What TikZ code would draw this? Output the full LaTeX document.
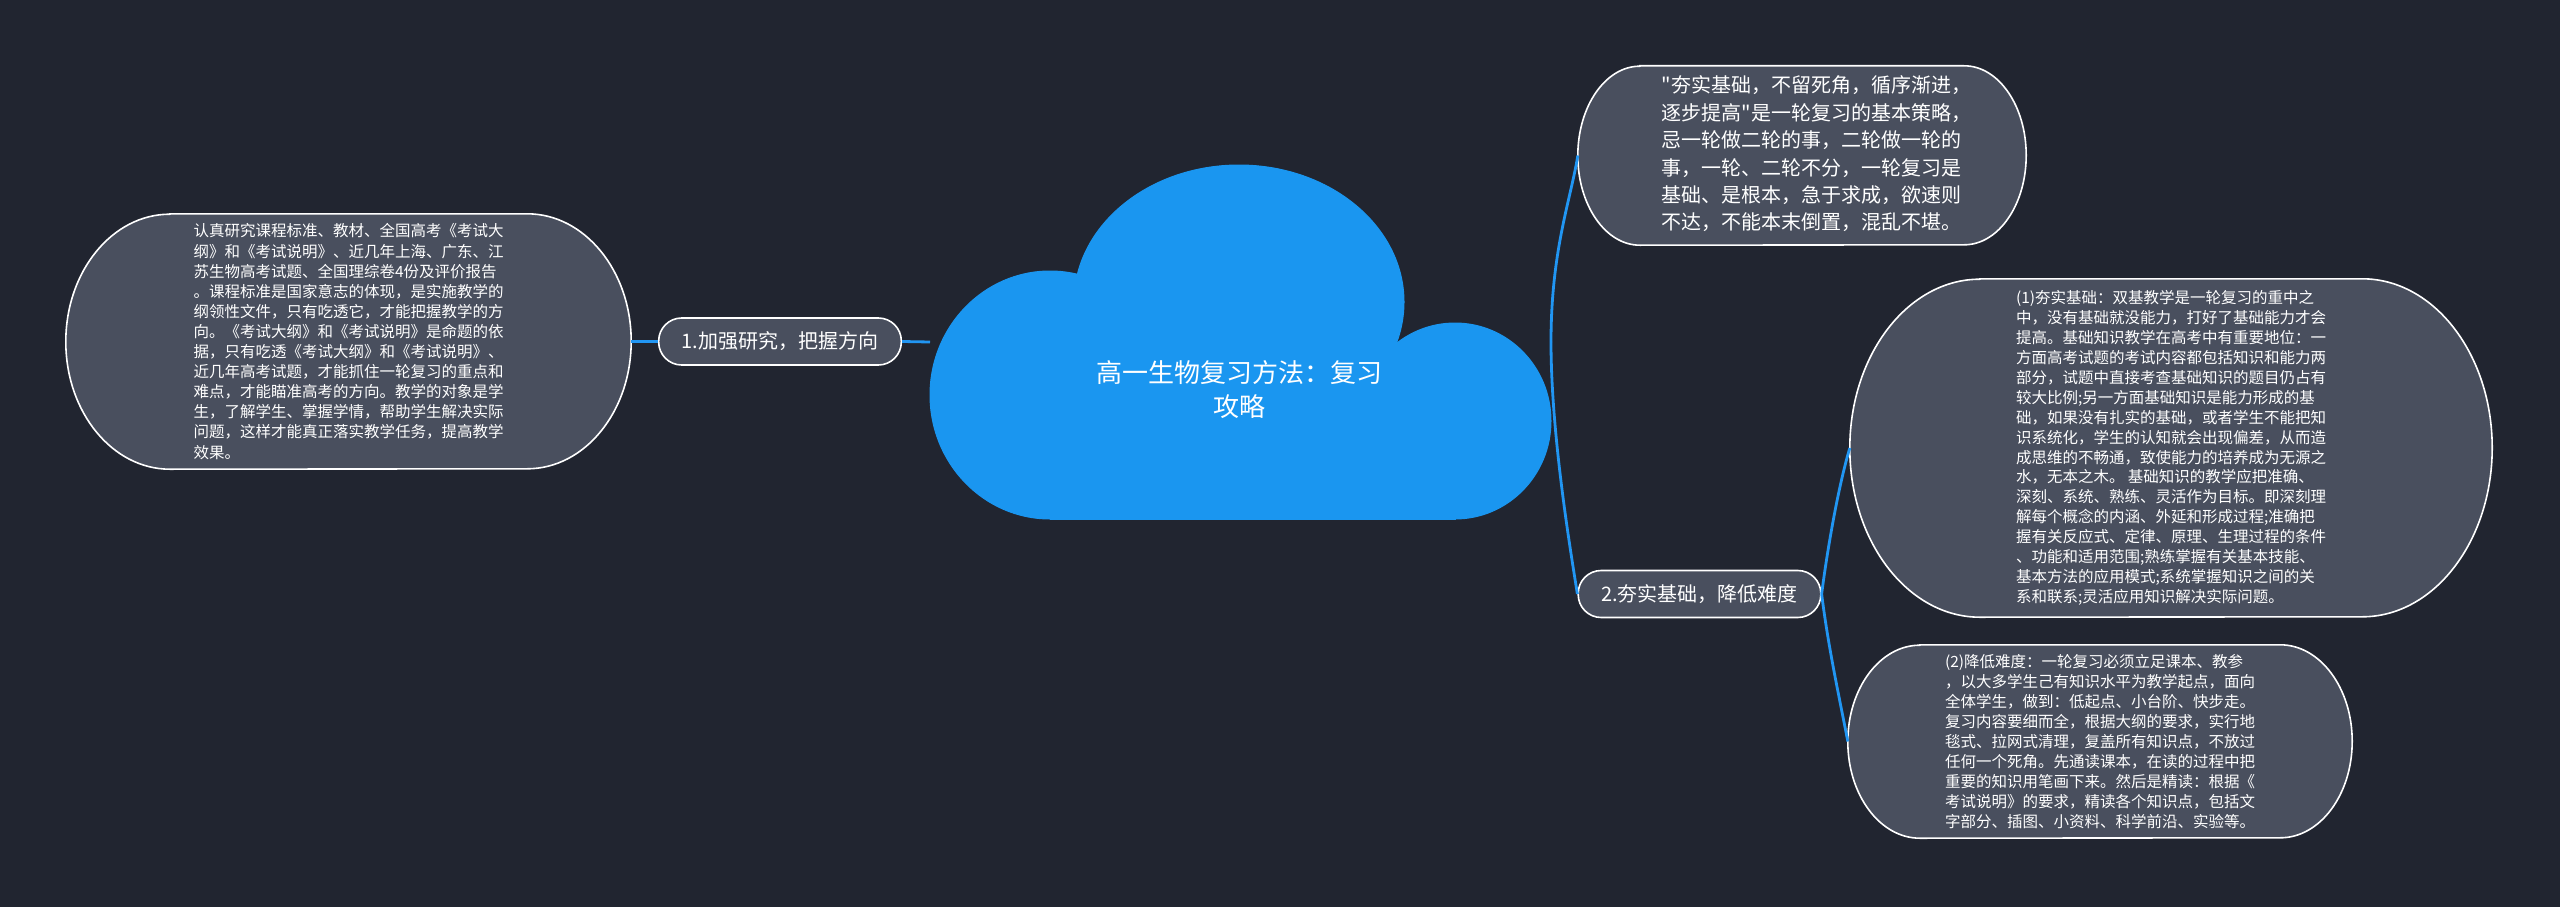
\documentclass[tikz,border=0pt]{standalone}
\usepackage{fontspec}
\setmainfont{Noto Sans CJK SC}[Ligatures=TeXOff]
\usepackage{tikz}
\usetikzlibrary{positioning, backgrounds}
\definecolor{MMbg}{RGB}{33,37,48}
\definecolor{MMcard}{RGB}{73,79,94}
\definecolor{MMblue}{RGB}{26,150,240}
\definecolor{MMline}{RGB}{33,150,243}

\newcommand\cardshape[3]{%
  \path[cardfill] ([xshift=#2pt]#1.north west) -- ([xshift=-#2pt]#1.north east)
    arc[start angle=90, end angle=-90, x radius=#2pt, y radius=#3pt]
    -- ([xshift=#2pt]#1.south west)
    arc[start angle=270, end angle=90, x radius=#2pt, y radius=#3pt] -- cycle;}

\begin{document}
\begin{tikzpicture}[x=1pt, y=-1pt,
    card/.style={inner sep=0pt, text=white, align=left,
      font=\fontsize{15.5}{20.1}\selectfont},
    cardfill/.style={fill=MMcard, draw=white, line width=1.6pt},
    tag/.style={draw=white, line width=1.6pt, fill=MMcard, text=white,
      rounded corners=23pt, minimum height=47pt, inner xsep=23pt, inner ysep=0pt,
      font=\fontsize{20}{24}\selectfont},
    link/.style={draw=MMline, line width=2.8pt},
    blob/.style={fill=MMblue, draw=MMblue, line width=1pt}]

\useasboundingbox (0,0) rectangle (2560,907);

\node[card, minimum width=565pt, minimum height=255pt] (lnode) at (348.5,341.5)
  {认真研究课程标准、教材、全国高考《考试大\\
   纲》和《考试说明》、近几年上海、广东、江\\
   苏生物高考试题、全国理综卷4份及评价报告\\
   。课程标准是国家意志的体现，是实施教学的\\
   纲领性文件，只有吃透它，才能把握教学的方\\
   向。《考试大纲》和《考试说明》是命题的依\\
   据，只有吃透《考试大纲》和《考试说明》、\\
   近几年高考试题，才能抓住一轮复习的重点和\\
   难点，才能瞄准高考的方向。教学的对象是学\\
   生，了解学生、掌握学情，帮助学生解决实际\\
   问题，这样才能真正落实教学任务，提高教学\\
   效果。};
\node[tag] (lab1) at (780,341.5) {1.加强研究，把握方向};

\node[text=white, align=center, font=\fontsize{26}{34}\selectfont] (root) at (1239,390)
  {高一生物复习方法：复习\\攻略};
\coordinate (rootW) at (930,342);
\coordinate (rootE) at (1551,342);

\node[card, minimum width=448pt, minimum height=179pt] (tr) at (1802,155.5) {};
\node[card, font=\fontsize{20}{27.4}\selectfont] (trtext) at (1816.5,154)
  {"夯实基础，不留死角，循序渐进，\\
   逐步提高"是一轮复习的基本策略，\\
   忌一轮做二轮的事，二轮做一轮的\\
   事，一轮、二轮不分，一轮复习是\\
   基础、是根本，急于求成，欲速则\\
   不达，不能本末倒置，混乱不堪。};

\node[tag] (lab2) at (1699.5,594) {2.夯实基础，降低难度};

\node[card, font=\fontsize{15.5}{19.9}\selectfont, minimum width=642pt, minimum height=338pt] (rnode) at (2171,448)
  {(1)夯实基础：双基教学是一轮复习的重中之\\
   中，没有基础就没能力，打好了基础能力才会\\
   提高。基础知识教学在高考中有重要地位：一\\
   方面高考试题的考试内容都包括知识和能力两\\
   部分，试题中直接考查基础知识的题目仍占有\\
   较大比例;另一方面基础知识是能力形成的基\\
   础，如果没有扎实的基础，或者学生不能把知\\
   识系统化，学生的认知就会出现偏差，从而造\\
   成思维的不畅通，致使能力的培养成为无源之\\
   水，无本之木。 基础知识的教学应把准确、\\
   深刻、系统、熟练、灵活作为目标。即深刻理\\
   解每个概念的内涵、外延和形成过程;准确把\\
   握有关反应式、定律、原理、生理过程的条件\\
   、功能和适用范围;熟练掌握有关基本技能、\\
   基本方法的应用模式;系统掌握知识之间的关\\
   系和联系;灵活应用知识解决实际问题。};

\node[card, font=\fontsize{15.5}{20}\selectfont, minimum width=504pt, minimum height=193pt] (bnode) at (2100,741.5)
  {(2)降低难度：一轮复习必须立足课本、教参\\
   ，以大多学生己有知识水平为教学起点，面向\\
   全体学生，做到：低起点、小台阶、快步走。\\
   复习内容要细而全，根据大纲的要求，实行地\\
   毯式、拉网式清理，复盖所有知识点，不放过\\
   任何一个死角。先通读课本，在读的过程中把\\
   重要的知识用笔画下来。然后是精读：根据《\\
   考试说明》的要求，精读各个知识点，包括文\\
   字部分、插图、小资料、科学前沿、实验等。};

\begin{scope}[on background layer]
  \fill[MMbg] (0,0) rectangle (2560,907);
  \foreach \cx/\cy/\rx/\ry in {1050/395/120/124, 1239/302/165/137, 1455/421/96/98}
    \path[blob] (\cx,\cy) ellipse [x radius=\rx, y radius=\ry];
  \path[blob] (1050,380) rectangle (1455,519);
  \cardshape{lnode}{104}{127.5}
  \cardshape{tr}{62}{89.5}
  \cardshape{rnode}{130}{169}
  \cardshape{bnode}{72}{96.5}
\end{scope}

\draw[link] (lnode.east) -- (lab1.west);
\draw[link] (lab1.east) -- (rootW);
\draw[link] (rootE) .. controls +(0,-92) and +(-7,44) .. (tr.west);
\draw[link] (rootE) .. controls +(0,92) and +(-7,-44) .. (lab2.west);
\draw[link] (lab2.east) .. controls +(7,-54) and +(-10,33) .. (rnode.west);
\draw[link] (lab2.east) .. controls +(7,56) and +(-8,-42) .. (bnode.west);
\end{tikzpicture}
\end{document}
